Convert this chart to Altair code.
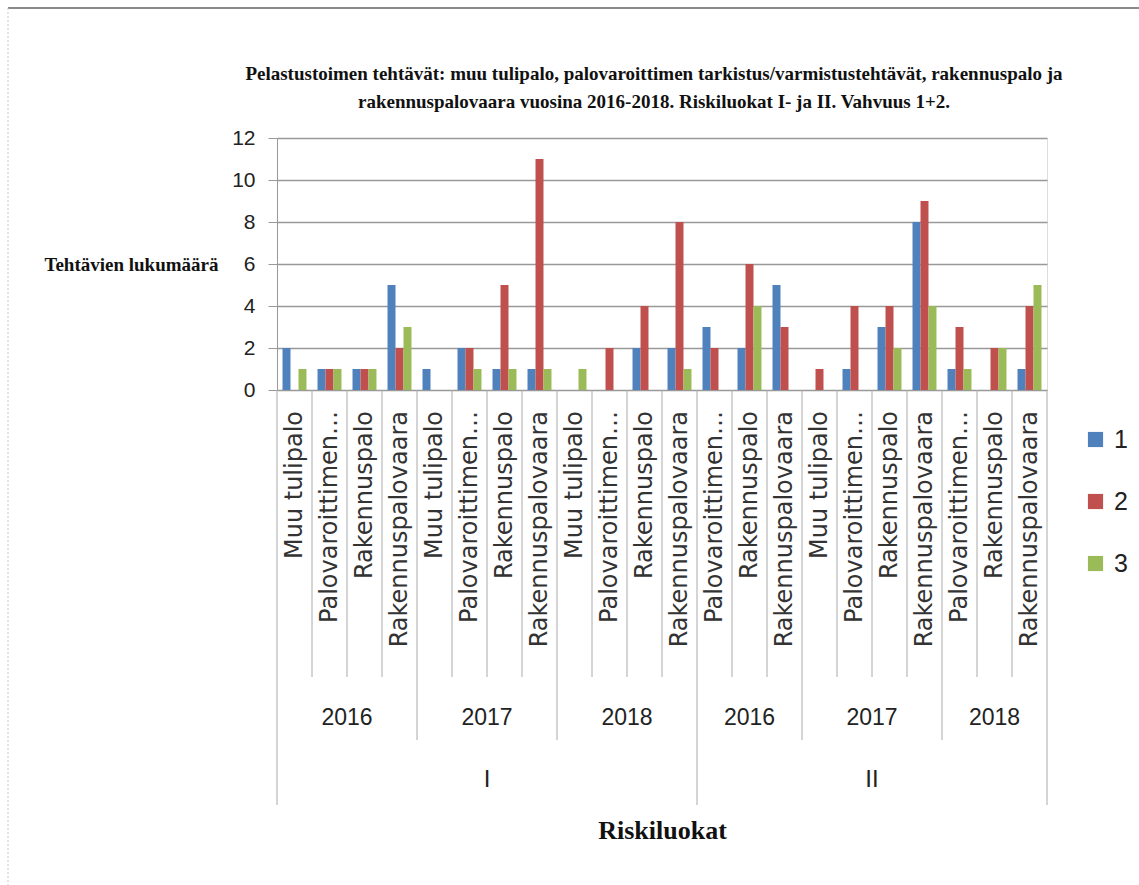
import altair as alt
import pandas as pd

# ---- data ----
risk_classes = ["I"] * 12 + ["II"] * 10
years = (["2016"] * 4 + ["2017"] * 4 + ["2018"] * 4
         + ["2016"] * 3 + ["2017"] * 4 + ["2018"] * 3)
M, P, R, RV = "Muu tulipalo", "Palovaroittimen…", "Rakennuspalo", "Rakennuspalovaara"
tasks = [M, P, R, RV] * 3 + [P, R, RV] + [M, P, R, RV] + [P, R, RV]
series_names = ["1", "2", "3"]
s1 = [2, 1, 1, 5, 1, 2, 1, 1, 0, 0, 2, 2, 3, 2, 5, 0, 1, 3, 8, 1, 0, 1]
s2 = [0, 1, 1, 2, 0, 2, 5, 11, 0, 2, 4, 8, 2, 6, 3, 1, 4, 4, 9, 3, 2, 4]
s3 = [1, 1, 1, 3, 0, 1, 1, 1, 1, 0, 0, 1, 0, 4, 0, 0, 0, 2, 4, 1, 2, 5]
colors = ["#4F81BD", "#C0504D", "#9BBB59"]

title_lines = [
    "Pelastustoimen tehtävät: muu tulipalo, palovaroittimen tarkistus/varmistustehtävät, rakennuspalo ja",
    "rakennuspalovaara vuosina 2016-2018. Riskiluokat I- ja II. Vahvuus 1+2.",
]

# ---- tables built from the lists ----
n = len(tasks)
keys = [f"{i:02d}" for i in range(n)]
rows = []
for i, k in enumerate(keys):
    for name, vals in zip(series_names, [s1, s2, s3]):
        rows.append({"key": k, "series": name, "value": vals[i]})
bars_df = pd.DataFrame(rows)
labels_df = pd.DataFrame({"key": keys, "task": tasks})

sep_rows = []
for i in range(n + 1):
    if i == 0 or i == n or risk_classes[i] != risk_classes[i - 1]:
        lvl = "risk"
    elif years[i] != years[i - 1]:
        lvl = "year"
    else:
        lvl = "task"
    sep_rows.append({"pos": i, "level": lvl})
sep_df = pd.DataFrame(sep_rows)

def groups(labels_list, keyfn):
    out = []
    start = 0
    for i in range(1, n + 1):
        if i == n or keyfn(i) != keyfn(start):
            out.append({"mid": (start + i) / 2, "label": labels_list[start]})
            start = i
    return pd.DataFrame(out)

year_df = groups(years, lambda i: (risk_classes[i], years[i]))
risk_df = groups(risk_classes, lambda i: risk_classes[i])

W, H = 770, 252
band_x = alt.X("key:N", scale=alt.Scale(domain=keys, paddingInner=0, paddingOuter=0), axis=None)
lin_scale = alt.Scale(domain=[0, n], nice=False, zero=False)

bars = alt.Chart(bars_df).mark_bar().encode(
    x=band_x,
    xOffset=alt.XOffset("series:N", scale=alt.Scale(paddingInner=0, paddingOuter=0.69)),
    y=alt.Y("value:Q", scale=alt.Scale(domain=[0, 12], nice=False),
            axis=alt.Axis(values=[0, 2, 4, 6, 8, 10, 12], title="Tehtävien lukumäärä",
                          titleAngle=0, titleAlign="right", titleBaseline="middle",
                          titleX=-59, titleY=126, titleFont="Liberation Serif",
                          titleFontSize=19, titleFontWeight="bold", titleColor="#111",
                          labelFont="Liberation Sans", labelFontSize=21, labelColor="#222",
                          labelPadding=13, tickSize=9, tickColor="#999", domainColor="#999",
                          gridColor="#999", gridWidth=1.5)),
    color=alt.Color("series:N", scale=alt.Scale(domain=series_names, range=colors),
                    legend=alt.Legend(title=None, orient="none", legendX=806, legendY=289,
                                      symbolType="square", symbolSize=230, symbolStrokeWidth=0,
                                      labelFont="Liberation Sans", labelFontSize=25,
                                      labelColor="#222", rowPadding=36, labelOffset=6)),
)

task_text = alt.Chart(labels_df).mark_text(
    angle=270, align="right", baseline="middle", font="DejaVu Sans", fontSize=24, color="#333"
).encode(x=band_x, y=alt.value(H + 21), text="task:N")

rule_layers = []
for lvl, y2 in [("task", 539), ("year", 602), ("risk", 667)]:
    rule_layers.append(
        alt.Chart(sep_df).transform_filter(alt.datum.level == lvl)
        .mark_rule(color="#aaa", strokeWidth=1)
        .encode(x=alt.X("pos:Q", scale=lin_scale, axis=None), y=alt.value(H), y2=alt.value(y2))
    )

year_text = alt.Chart(year_df).mark_text(
    font="Liberation Sans", fontSize=23, color="#222", baseline="middle"
).encode(x=alt.X("mid:Q", scale=lin_scale, axis=None), y=alt.value(580), text="label:N")

risk_text = alt.Chart(risk_df).mark_text(
    font="Liberation Sans", fontSize=24, color="#222", baseline="middle"
).encode(
    x=alt.X("mid:Q", scale=lin_scale,
            axis=alt.Axis(title="Riskiluokat", labels=False, ticks=False, domain=False, grid=False,
                          titleFont="Liberation Serif", titleFontSize=26, titleFontWeight="bold",
                          titleColor="#111", titleBaseline="middle", titleY=440)),
    y=alt.value(642), text="label:N")

one = pd.DataFrame({"a": [0]})
title_text = alt.Chart(one).mark_text(
    text=title_lines, font="Liberation Serif", fontSize=19, fontWeight="bold",
    lineHeight=28, align="center", baseline="alphabetic", color="#111"
).encode(x=alt.value(W / 2 - 8), y=alt.value(-58))

frame_top = alt.Chart(one).mark_rule(color="#8a8a8a", strokeWidth=2).encode(
    x=alt.value(-269), x2=alt.value(862), y=alt.value(-130))
frame_left = alt.Chart(one).mark_rule(color="#c8c8c8", strokeWidth=1, strokeDash=[2, 2]).encode(
    x=alt.value(-269), y=alt.value(-130), y2=alt.value(747))

chart = alt.layer(
    frame_top, frame_left, *rule_layers, bars, task_text, year_text, risk_text, title_text
).resolve_scale(x="independent").properties(
    width=W, height=H,
    autosize=alt.AutoSizeParams(type="none"),
    padding={"left": 277, "top": 138, "right": 92, "bottom": 495},
).configure_view(stroke=None).configure(background="white")

chart.save("out.html", embed_options={"renderer": "svg", "actions": False})
